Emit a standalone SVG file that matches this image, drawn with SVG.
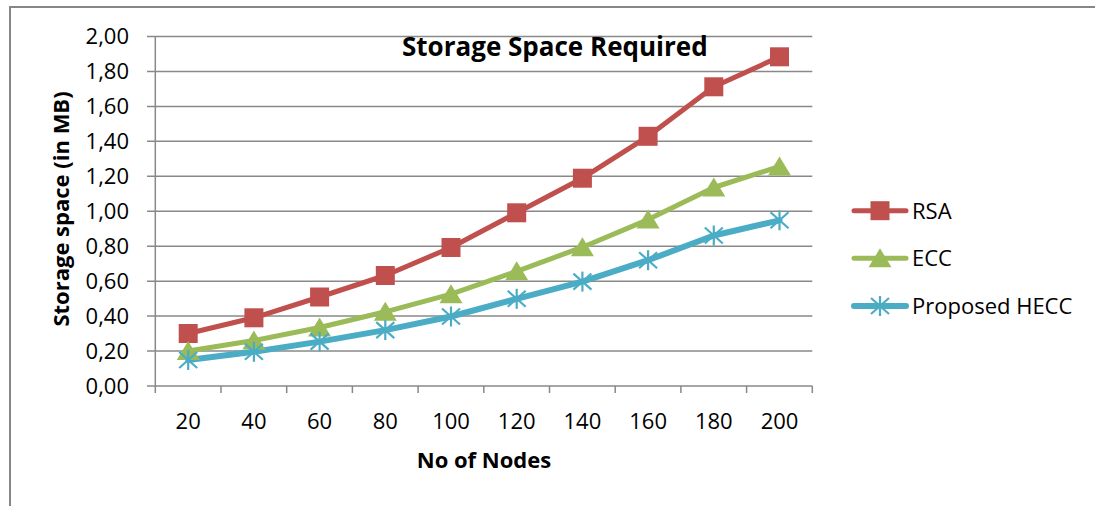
<svg xmlns="http://www.w3.org/2000/svg" xmlns:xlink="http://www.w3.org/1999/xlink" width="1095" height="506" viewBox="0 0 1095 506">
<style>
.grid{stroke:#898989;stroke-width:1.5;fill:none}
.axis{stroke:#898989;stroke-width:1.5;fill:none}
.lbl{font-family:"Open Sans","Liberation Sans",sans-serif;font-size:22px;fill:#000}
.ttl{font-family:"Open Sans","Liberation Sans",sans-serif;font-weight:bold;fill:#000}
.rsa{stroke:#C0504D;stroke-width:5;fill:none;stroke-linejoin:round;stroke-linecap:round}
.ecc{stroke:#9BBB59;stroke-width:5;fill:none;stroke-linejoin:round;stroke-linecap:round}
.hecc{stroke:#4BACC6;stroke-width:6;fill:none;stroke-linejoin:round;stroke-linecap:round}
</style>
<defs>
<g id="sq"><rect x="-9.5" y="-9.5" width="19" height="19" fill="#C0504D"/></g>
<g id="tri"><polygon points="0,-10 11.5,9 -11.5,9" fill="#9BBB59"/></g>
<g id="star" stroke="#4BACC6" stroke-width="2.2" fill="none"><line x1="0" y1="-10" x2="0" y2="10"/><line x1="-9" y1="-8" x2="9" y2="8"/><line x1="-9" y1="8" x2="9" y2="-8"/></g>
</defs>
<rect x="0" y="0" width="1095" height="506" fill="#fff"/>
<rect id="frame" x="10" y="7" width="1200" height="600" fill="none" stroke="#868686" stroke-width="2"/>
<g id="gridlines">
<path class="grid" d="M147 36.5H812.3M147 71.45H812.3M147 106.4H812.3M147 141.35H812.3M147 176.3H812.3M147 211.25H812.3M147 246.2H812.3M147 281.15H812.3M147 316.1H812.3M147 351.05H812.3M147 386H812.3"/>
<path class="axis" d="M155.3 36.5V386M155.3 386V393M221 386V393M286.7 386V393M352.4 386V393M418.1 386V393M483.8 386V393M549.5 386V393M615.2 386V393M680.9 386V393M746.6 386V393M812.3 386V393"/>
</g>
<g id="y-labels" class="lbl" text-anchor="end">
<text x="129" y="44">2,00</text>
<text x="129" y="79">1,80</text>
<text x="129" y="114">1,60</text>
<text x="129" y="149">1,40</text>
<text x="129" y="184">1,20</text>
<text x="129" y="219">1,00</text>
<text x="129" y="254">0,80</text>
<text x="129" y="289">0,60</text>
<text x="129" y="324">0,40</text>
<text x="129" y="359">0,20</text>
<text x="129" y="394">0,00</text>
</g>
<g id="x-labels" class="lbl" text-anchor="middle">
<text x="188.2" y="429">20</text>
<text x="253.9" y="429">40</text>
<text x="319.6" y="429">60</text>
<text x="385.3" y="429">80</text>
<text x="451" y="429">100</text>
<text x="516.7" y="429">120</text>
<text x="582.4" y="429">140</text>
<text x="648.1" y="429">160</text>
<text x="713.8" y="429">180</text>
<text x="779.5" y="429">200</text>
</g>
<text id="title" class="ttl" x="402" y="56" font-size="26">Storage Space Required</text>
<text id="x-title" class="ttl" x="484" y="468" font-size="22" text-anchor="middle">No of Nodes</text>
<text id="y-title" class="ttl" font-size="22" text-anchor="middle" transform="translate(69 209) rotate(-90)">Storage space (in MB)</text>
<g id="connectors">
<polyline id="rsa-line" class="rsa" points="188.2,333.5 253.9,317.8 319.6,297 385.3,275.5 451,247.5 516.7,212.8 582.4,178.2 648.1,136.3 713.8,86.8 779.5,56.8"/>
<polyline id="ecc-line" class="ecc" points="188.2,351 253.9,340.5 319.6,327.5 385.3,311.8 451,294.2 516.7,271.3 582.4,247.2 648.1,219.6 713.8,187.5 779.5,166.5"/>
<polyline id="hecc-line" class="hecc" points="188.2,360 253.9,351.8 319.6,341.6 385.3,330.1 451,316.5 516.7,298.8 582.4,281.6 648.1,260.2 713.8,235.5 779.5,220.3"/>
</g>
<g id="rsa-markers">
<use xlink:href="#sq" x="188.2" y="333.5"/><use xlink:href="#sq" x="253.9" y="317.8"/><use xlink:href="#sq" x="319.6" y="297"/><use xlink:href="#sq" x="385.3" y="275.5"/><use xlink:href="#sq" x="451" y="247.5"/><use xlink:href="#sq" x="516.7" y="212.8"/><use xlink:href="#sq" x="582.4" y="178.2"/><use xlink:href="#sq" x="648.1" y="136.3"/><use xlink:href="#sq" x="713.8" y="86.8"/><use xlink:href="#sq" x="779.5" y="56.8"/>
</g>
<g id="ecc-markers">
<use xlink:href="#tri" x="188.2" y="351"/><use xlink:href="#tri" x="253.9" y="340.5"/><use xlink:href="#tri" x="319.6" y="327.5"/><use xlink:href="#tri" x="385.3" y="311.8"/><use xlink:href="#tri" x="451" y="294.2"/><use xlink:href="#tri" x="516.7" y="271.3"/><use xlink:href="#tri" x="582.4" y="247.2"/><use xlink:href="#tri" x="648.1" y="219.6"/><use xlink:href="#tri" x="713.8" y="187.5"/><use xlink:href="#tri" x="779.5" y="166.5"/>
</g>
<g id="hecc-markers">
<use xlink:href="#star" x="188.2" y="360"/><use xlink:href="#star" x="253.9" y="351.8"/><use xlink:href="#star" x="319.6" y="341.6"/><use xlink:href="#star" x="385.3" y="330.1"/><use xlink:href="#star" x="451" y="316.5"/><use xlink:href="#star" x="516.7" y="298.8"/><use xlink:href="#star" x="582.4" y="281.6"/><use xlink:href="#star" x="648.1" y="260.2"/><use xlink:href="#star" x="713.8" y="235.5"/><use xlink:href="#star" x="779.5" y="220.3"/>
</g>
<g id="legend-rsa">
<line class="rsa" x1="854" y1="210.7" x2="906" y2="210.7"/>
<use xlink:href="#sq" x="880" y="210.7"/>
<text class="lbl" x="912" y="218.5">RSA</text>
</g>
<g id="legend-ecc">
<line class="ecc" x1="854" y1="258.3" x2="906" y2="258.3"/>
<use xlink:href="#tri" x="880" y="258.3"/>
<text class="lbl" x="912" y="266">ECC</text>
</g>
<g id="legend-hecc">
<line class="hecc" x1="854" y1="306" x2="906" y2="306"/>
<use xlink:href="#star" x="880" y="306"/>
<text class="lbl" x="912" y="314">Proposed HECC</text>
</g>
</svg>
